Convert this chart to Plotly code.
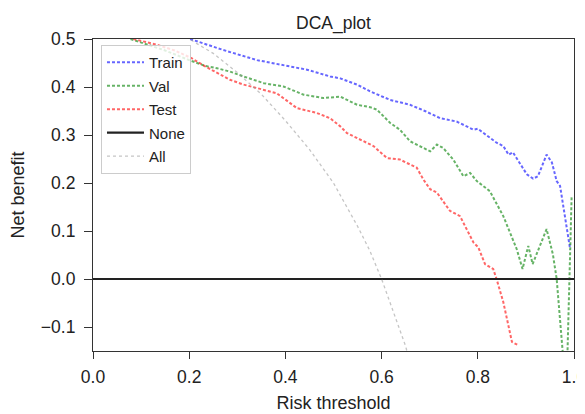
import plotly.graph_objects as go

# ---- data ----
train_x = [0.202, 0.271, 0.341, 0.396, 0.445, 0.493, 0.514, 0.549, 0.576, 0.618, 0.659, 0.690,
           0.722, 0.756, 0.791, 0.800, 0.839, 0.853, 0.864, 0.873, 0.902, 0.915, 0.925, 0.943,
           0.954, 0.964, 0.971, 0.992]
train_y = [0.500, 0.477, 0.456, 0.446, 0.436, 0.422, 0.418, 0.405, 0.391, 0.373, 0.363, 0.350,
           0.335, 0.328, 0.311, 0.313, 0.284, 0.277, 0.259, 0.264, 0.218, 0.209, 0.214, 0.259,
           0.243, 0.204, 0.194, 0.062]

val_x = [0.078, 0.112, 0.150, 0.200, 0.233, 0.258, 0.285, 0.313, 0.355, 0.396, 0.438, 0.479,
         0.514, 0.549, 0.576, 0.590, 0.618, 0.638, 0.659, 0.701, 0.715, 0.728, 0.749, 0.770,
         0.784, 0.798, 0.825, 0.853, 0.881, 0.893, 0.905, 0.914, 0.943, 0.956, 0.964, 0.978,
         0.986, 0.995]
val_y = [0.500, 0.488, 0.476, 0.456, 0.444, 0.439, 0.432, 0.422, 0.408, 0.401, 0.384, 0.377,
         0.380, 0.363, 0.358, 0.353, 0.325, 0.311, 0.287, 0.266, 0.280, 0.273, 0.249, 0.214,
         0.221, 0.204, 0.183, 0.131, 0.062, 0.021, 0.069, 0.031, 0.104, 0.052, 0.000, -0.170,
         -0.170, 0.170]

test_x = [0.084, 0.133, 0.170, 0.205, 0.233, 0.258, 0.285, 0.313, 0.341, 0.382, 0.424, 0.465,
          0.493, 0.514, 0.528, 0.562, 0.583, 0.611, 0.638, 0.652, 0.673, 0.687, 0.701, 0.715,
          0.742, 0.763, 0.791, 0.801, 0.815, 0.832, 0.839, 0.853, 0.871, 0.884]
test_y = [0.500, 0.488, 0.476, 0.460, 0.443, 0.429, 0.415, 0.405, 0.398, 0.387, 0.356, 0.346,
          0.335, 0.318, 0.304, 0.287, 0.277, 0.252, 0.249, 0.242, 0.232, 0.207, 0.187, 0.180,
          0.142, 0.131, 0.076, 0.066, 0.031, 0.021, 0.000, -0.048, -0.131, -0.138]

none_x = [0.0, 1.0]
none_y = [0.0, 0.0]

all_x = [0.15, 0.20, 0.25, 0.30, 0.35, 0.40, 0.45, 0.50, 0.55, 0.575, 0.60, 0.625, 0.65, 0.66]
all_y = [0.53, 0.50, 0.47, 0.43, 0.385, 0.33, 0.27, 0.20, 0.11, 0.06, 0.00, -0.07, -0.14, -0.18]

x_ticks = [0.0, 0.2, 0.4, 0.6, 0.8, 1.0]
x_tick_labels = ["0.0", "0.2", "0.4", "0.6", "0.8", "1.0"]
y_ticks = [-0.1, 0.0, 0.1, 0.2, 0.3, 0.4, 0.5]
y_tick_labels = ["\u22120.1", "0.0", "0.1", "0.2", "0.3", "0.4", "0.5"]

FONT = "Liberation Sans, Arial, sans-serif"
DASH = "3px,2px"

fig = go.Figure()
fig.add_trace(go.Scatter(x=train_x, y=train_y, mode="lines", name="Train", legendgroup="g1",
                         line=dict(color="rgba(0,0,255,0.6)", width=2, dash=DASH)))
fig.add_trace(go.Scatter(x=val_x, y=val_y, mode="lines", name="Val", legendgroup="g2",
                         line=dict(color="rgba(0,128,0,0.6)", width=2, dash=DASH)))
fig.add_trace(go.Scatter(x=test_x, y=test_y, mode="lines", name="Test", legendgroup="g3",
                         line=dict(color="rgba(255,0,0,0.6)", width=2, dash=DASH)))
fig.add_trace(go.Scatter(x=none_x, y=none_y, mode="lines", name="None", legendgroup="g4",
                         line=dict(color="#222222", width=2.2)))
fig.add_trace(go.Scatter(x=all_x, y=all_y, mode="lines", name="All", legendgroup="g5",
                         line=dict(color="rgba(150,150,150,0.55)", width=1.3, dash="dot")))

# the page body has an 8px default margin, so the figure is sized/offset to compensate
fig.update_layout(
    width=577, height=406,
    margin=dict(l=85, r=11, t=31, b=63, autoexpand=False),
    paper_bgcolor="white", plot_bgcolor="white",
    font=dict(family=FONT, size=17.5, color="#222222"),
    title=dict(text="DCA_plot", x=0.5, xref="paper", xanchor="center",
               y=1, yref="paper", yanchor="bottom", pad=dict(b=10),
               font=dict(size=17.5, color="#222222")),
    showlegend=True,
    legend=dict(x=0.0166, y=0.981, xanchor="left", yanchor="top",
                bgcolor="rgba(255,255,255,0.8)", bordercolor="#cccccc", borderwidth=1,
                font=dict(size=15, color="#222222"), itemwidth=37,
                tracegroupgap=1),
)
fig.update_xaxes(range=[0, 1], tickvals=x_ticks, ticktext=x_tick_labels, automargin=False,
                 showgrid=False, zeroline=False, showline=True, linecolor="#333333", linewidth=1.2,
                 mirror=True, ticks="outside", ticklen=7, tickcolor="#333333",
                 tickfont=dict(size=17.5), ticklabelstandoff=3, ticklabeloverflow="allow",
                 title=dict(text="Risk threshold", standoff=10, font=dict(size=18)))
fig.update_yaxes(range=[-0.15, 0.5], tickvals=y_ticks, ticktext=y_tick_labels, automargin=False,
                 showgrid=False, zeroline=False, showline=True, linecolor="#333333", linewidth=1.2,
                 mirror=True, ticks="outside", ticklen=8, tickcolor="#333333",
                 tickfont=dict(size=17.5), ticklabelstandoff=5, ticklabeloverflow="allow",
                 title=dict(text="Net benefit", standoff=14, font=dict(size=18)))

fig.write_html("out.html")
